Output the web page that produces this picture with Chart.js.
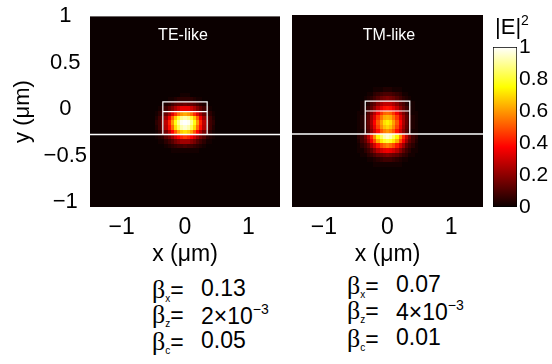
<!DOCTYPE html>
<html>
<head>
<meta charset="utf-8">
<script src="https://cdn.jsdelivr.net/npm/chart.js@4.4.1/dist/chart.umd.min.js"></script>
<style>
  body { margin: 0; background: #fff; }
  #wrap { position: relative; width: 552px; height: 364px; overflow: hidden; font-family: "Liberation Sans", Arial, sans-serif; color: #000; }
  canvas { position: absolute; top: 0; }
  .lbl { position: absolute; white-space: pre; line-height: 1; }
  .mode { color: #fff; font-size: 16px; width: 100px; text-align: center; }
  .beta-line { position: absolute; font-size: 23px; line-height: 1; white-space: pre; }
  .beta-line .b { font-family: "Liberation Serif", "DejaVu Serif", serif; font-size: 26px; }
  .beta-line sub { font-size: 10px; vertical-align: -4px; }
  .beta-line sup { font-size: 14px; vertical-align: 10px; }
  .beta-line .v { position: absolute; left: 49px; top: 0; }
</style>
</head>
<body>
<div id="wrap">
  <canvas id="teChart" width="286" height="270" style="left:0"></canvas>
  <canvas id="tmChart" width="200" height="270" style="left:286px"></canvas>
  <canvas id="cbChart" width="66" height="270" style="left:486px"></canvas>
  <div class="lbl mode" style="left:133px; top:27px">TE-like</div>
  <div class="lbl mode" style="left:339px; top:27px">TM-like</div>
  <div class="lbl" style="left:495px; top:13px; font-size:22px">|E|<sup style="font-size:14px; vertical-align:9px">2</sup></div>
  <div id="betaTE"></div>
  <div id="betaTM"></div>
</div>
<script>
// axis ticks
const xTicks = [-1, 0, 1];
const yTicks = [-1, -0.5, 0, 0.5, 1];
const cbTicks = [0, 0.2, 0.4, 0.6, 0.8, 1];

// waveguide outline (um)
const substrateX = [-1.5, 1.5];
const substrateY = [-0.27, -0.27];
const coreX = [-0.35, -0.35, 0.35, 0.35];
const coreY = [-0.27, 0.08, 0.08, -0.27];
const slabX = [-0.35, 0.35];
const slabY = [-0.025, -0.025];

const xCols = [-0.45, -0.4, -0.35, -0.3, -0.25, -0.2, -0.15, -0.1, -0.05, 0, 0.05, 0.1, 0.15, 0.2, 0.25, 0.3, 0.35, 0.4, 0.45];

const teRows = [0.155, 0.105, 0.055, 0.005, -0.045, -0.095, -0.145, -0.195, -0.245, -0.295, -0.345, -0.395, -0.445];
const teField = [
  [0,0,0,0,.01,.01,.01,.01,.02,.02,.02,.01,.01,.01,.01,0,0,0,0],
  [0,0,.01,.01,.02,.03,.04,.05,.05,.06,.05,.05,.04,.03,.02,.01,.01,0,0],
  [.01,.01,.02,.04,.06,.08,.11,.13,.14,.15,.14,.13,.11,.08,.06,.04,.02,.01,.01],
  [.01,.03,.05,.08,.13,.18,.24,.29,.33,.34,.33,.29,.24,.18,.13,.08,.05,.03,.01],
  [.02,.05,.09,.15,.23,.32,.43,.52,.59,.61,.59,.52,.43,.32,.23,.15,.09,.05,.02],
  [.04,.08,.14,.23,.35,.50,.66,.79,.88,.91,.88,.79,.66,.50,.35,.23,.14,.08,.04],
  [.05,.09,.16,.27,.41,.58,.75,.89,.98,1,.98,.89,.75,.58,.41,.27,.16,.09,.05],
  [.04,.08,.15,.25,.38,.53,.69,.82,.91,.94,.91,.82,.69,.53,.38,.25,.15,.08,.04],
  [.03,.06,.10,.17,.26,.37,.49,.60,.67,.70,.67,.60,.49,.37,.26,.17,.10,.06,.03],
  [.02,.04,.06,.11,.16,.23,.31,.37,.42,.44,.42,.37,.31,.23,.16,.11,.06,.04,.02],
  [.01,.02,.03,.06,.09,.12,.16,.20,.22,.23,.22,.20,.16,.12,.09,.06,.03,.02,.01],
  [0,.01,.01,.02,.04,.05,.07,.08,.09,.10,.09,.08,.07,.05,.04,.02,.01,.01,0],
  [0,0,0,.01,.01,.02,.02,.03,.03,.03,.03,.03,.02,.02,.01,.01,0,0,0]
];

const tmRows = [0.205, 0.155, 0.105, 0.055, 0.005, -0.045, -0.095, -0.145, -0.195, -0.245, -0.295, -0.345, -0.395, -0.445, -0.495, -0.545, -0.595];
const tmField = [
  [0,0,0,.01,.01,.02,.03,.03,.04,.04,.04,.03,.03,.02,.01,.01,0,0,0],
  [0,.01,.01,.02,.03,.05,.07,.08,.10,.10,.10,.08,.07,.05,.03,.02,.01,.01,0],
  [.01,.01,.02,.04,.06,.09,.12,.15,.17,.18,.17,.15,.12,.09,.06,.04,.02,.01,.01],
  [.01,.02,.03,.06,.10,.14,.19,.24,.27,.28,.27,.24,.19,.14,.10,.06,.03,.02,.01],
  [.01,.02,.05,.08,.14,.20,.27,.34,.38,.40,.38,.34,.27,.20,.14,.08,.05,.02,.01],
  [.02,.03,.06,.11,.18,.26,.35,.44,.50,.52,.50,.44,.35,.26,.18,.11,.06,.03,.02],
  [.02,.04,.08,.13,.22,.32,.44,.54,.61,.64,.61,.54,.44,.32,.22,.13,.08,.04,.02],
  [.02,.04,.09,.15,.24,.36,.49,.60,.69,.72,.69,.60,.49,.36,.24,.15,.09,.04,.02],
  [.02,.04,.08,.14,.23,.34,.46,.57,.65,.68,.65,.57,.46,.34,.23,.14,.08,.04,.02],
  [.02,.03,.07,.12,.20,.29,.39,.49,.56,.58,.56,.49,.39,.29,.20,.12,.07,.03,.02],
  [.05,.09,.17,.28,.42,.57,.72,.84,.92,.95,.92,.84,.72,.57,.42,.28,.17,.09,.05],
  [.04,.08,.14,.23,.35,.48,.61,.71,.78,.80,.78,.71,.61,.48,.35,.23,.14,.08,.04],
  [.03,.05,.09,.14,.22,.30,.40,.47,.53,.55,.53,.47,.40,.30,.22,.14,.09,.05,.03],
  [.02,.03,.06,.09,.14,.19,.25,.30,.34,.35,.34,.30,.25,.19,.14,.09,.06,.03,.02],
  [.01,.02,.03,.05,.07,.10,.13,.15,.17,.18,.17,.15,.13,.10,.07,.05,.03,.02,.01],
  [0,.01,.01,.02,.03,.04,.06,.07,.08,.08,.08,.07,.06,.04,.03,.02,.01,.01,0],
  [0,0,0,.01,.01,.02,.02,.03,.03,.03,.03,.03,.02,.02,.01,.01,0,0,0]
];

// confinement factors
const betaNames = ['x', 'z', 'c'];
const betaTE = ['0.13', '2×10<sup>-3</sup>', '0.05'];
const betaTM = ['0.07', '4×10<sup>-3</sup>', '0.01'];

const CELL = 0.05;
const FONT = '"Liberation Sans", Arial, sans-serif';

// MATLAB "hot" colormap, 64 levels
function hot(v) {
    const i = Math.max(0, Math.min(63, Math.floor(v * 64)));
    const r = i < 24 ? (i + 1) / 24 : 1;
    const g = i < 24 ? 0 : i < 48 ? (i - 23) / 24 : 1;
    const b = i < 48 ? 0 : (i - 47) / 16;
    return `rgb(${Math.round(r * 255)},${Math.round(g * 255)},${Math.round(b * 255)})`;
}

const heatPlugin = {
    id: 'heat',
    beforeDatasetsDraw(chart, args, opts) {
        const { ctx, chartArea: a, scales: { x, y } } = chart;
        ctx.save();
        ctx.beginPath();
        ctx.rect(a.left, a.top, a.width, a.height);
        ctx.clip();
        ctx.fillStyle = hot(0);
        ctx.fillRect(a.left, a.top, a.width, a.height);
        opts.rows.forEach((yc, ri) => {
            const top = Math.round(y.getPixelForValue(yc + CELL / 2));
            const bot = Math.round(y.getPixelForValue(yc - CELL / 2));
            xCols.forEach((xc, ci) => {
                const l = Math.round(x.getPixelForValue(xc - CELL / 2));
                const r = Math.round(x.getPixelForValue(xc + CELL / 2));
                ctx.fillStyle = hot(opts.field[ri][ci]);
                ctx.fillRect(l, top, r - l, bot - top);
            });
        });
        ctx.restore();
    }
};

function pts(xs, ys) {
    return xs.map((v, i) => ({ x: v, y: ys[i] }));
}

function minus(v) {
    return String(v).replace('-', '\u2212');
}

function panel(id, rows, field, showY) {
    const lineStyle = { borderColor: '#fff', pointRadius: 0, showLine: true, fill: false };
    return new Chart(document.getElementById(id), {
        type: 'scatter',
        data: {
            datasets: [
                { ...lineStyle, data: pts(substrateX, substrateY), borderWidth: 1.5 },
                { ...lineStyle, data: pts(coreX, coreY), borderWidth: 1.2 },
                { ...lineStyle, data: pts(slabX, slabY), borderWidth: 1.2 }
            ]
        },
        options: {
            responsive: false,
            animation: false,
            events: [],
            layout: { padding: showY ? { top: 15, right: 6, left: 0, bottom: 0 } : { top: 15, right: 3, left: 6, bottom: 0 } },
            plugins: {
                legend: { display: false },
                tooltip: { enabled: false },
                heat: { rows: rows, field: field }
            },
            scales: {
                x: {
                    type: 'linear', min: -1.5, max: 1.5,
                    grid: { display: false, drawTicks: false },
                    border: { display: false },
                    afterBuildTicks: s => { s.ticks = xTicks.map(v => ({ value: v })); },
                    afterFit: s => { s.height = 63; },
                    ticks: { color: '#000', font: { family: FONT, size: 23 }, padding: 7, maxRotation: 0, autoSkip: false, callback: v => minus(v) },
                    title: { display: true, text: 'x (\u03bcm)', color: '#000', font: { family: FONT, size: 23 }, padding: { top: 0, bottom: 2 } }
                },
                y: {
                    type: 'linear', min: -1.05, max: 1.0,
                    display: showY,
                    grid: { display: false, drawTicks: false },
                    border: { display: false },
                    afterBuildTicks: s => { s.ticks = yTicks.map(v => ({ value: v })); },
                    afterFit: s => { s.width = showY ? 90 : 0; },
                    ticks: { color: '#000', font: { family: FONT, size: 22 }, padding: 3, crossAlign: 'center', autoSkip: false, callback: v => minus(v) },
                    title: { display: true, text: 'y (\u03bcm)', color: '#000', font: { family: FONT, size: 22 }, padding: { top: 10, bottom: 0 } }
                }
            }
        },
        plugins: [heatPlugin]
    });
}

panel('teChart', teRows, teField, true);
panel('tmChart', tmRows, tmField, false);

// colour bar
new Chart(document.getElementById('cbChart'), {
    type: 'bar',
    data: {
        labels: ['|E|2'],
        datasets: [{
            data: [[0, 1]],
            borderColor: '#000',
            borderWidth: 1,
            borderSkipped: false,
            barPercentage: 1,
            categoryPercentage: 1,
            backgroundColor: c => {
                const ch = c.chart;
                if (!ch.chartArea) return '#000';
                const y0 = ch.scales.y.getPixelForValue(0);
                const y1 = ch.scales.y.getPixelForValue(1);
                const g = ch.ctx.createLinearGradient(0, y0, 0, y1);
                g.addColorStop(0, hot(0));
                g.addColorStop(0.375, 'rgb(255,0,0)');
                g.addColorStop(0.75, 'rgb(255,255,0)');
                g.addColorStop(1, 'rgb(255,255,255)');
                return g;
            }
        }]
    },
    options: {
        responsive: false,
        animation: false,
        events: [],
        layout: { padding: { top: 47, left: 7, right: 0, bottom: 63 } },
        plugins: { legend: { display: false }, tooltip: { enabled: false } },
        scales: {
            x: { display: false },
            y: {
                position: 'right', min: 0, max: 1,
                grid: { display: false, drawTicks: false },
                border: { display: false },
                afterBuildTicks: s => { s.ticks = cbTicks.map(v => ({ value: v })); },
                afterFit: s => { s.width = 35; },
                ticks: { color: '#000', font: { family: FONT, size: 21 }, padding: 2, autoSkip: false, callback: v => String(v) }
            }
        }
    }
});

// confinement factor text blocks
function betaBlock(id, vals, left, baselines) {
    const el = document.getElementById(id);
    vals.forEach((v, i) => {
        const d = document.createElement('div');
        d.className = 'beta-line';
        d.style.left = left + 'px';
        d.style.top = (baselines[i] - 20) + 'px';
        d.innerHTML = `<span class="b">\u03b2</span><sub>${betaNames[i]}</sub>=<span class="v">${v.replace('-', '\u2212')}</span>`;
        el.appendChild(d);
    });
}
betaBlock('betaTE', betaTE, 152, [297, 322, 349]);
betaBlock('betaTM', betaTM, 347, [293, 318, 346]);
</script>
</body>
</html>
